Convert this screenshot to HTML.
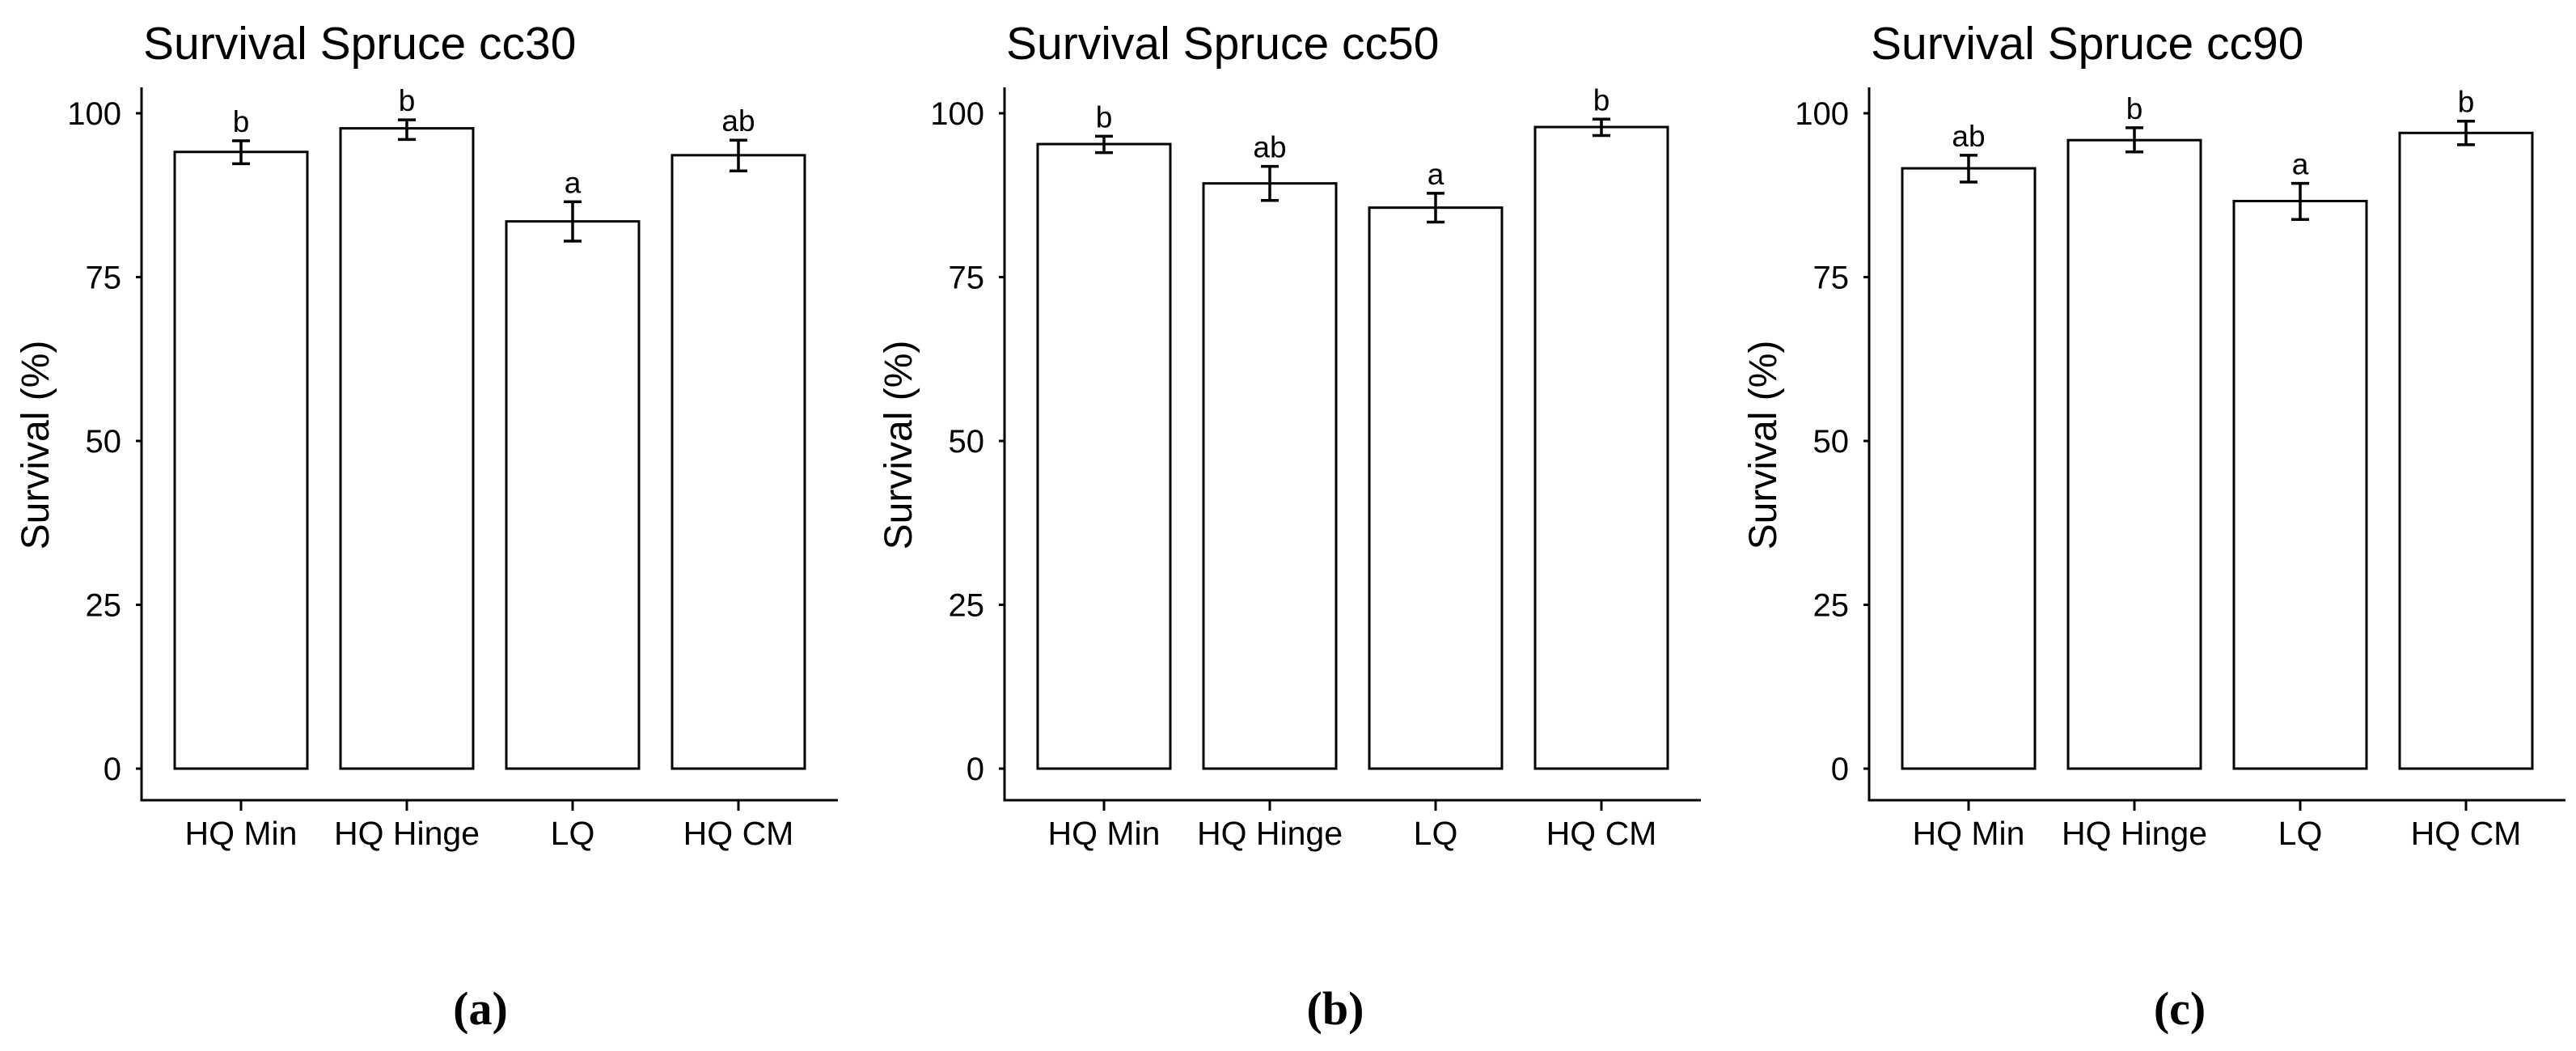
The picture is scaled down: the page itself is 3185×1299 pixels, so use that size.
<!DOCTYPE html>
<html><head><meta charset="utf-8">
<style>
html,body{margin:0;padding:0;background:#fff;}
svg{display:block;}
text{font-family:"Liberation Sans",Arial,sans-serif;fill:#000;}
</style></head>
<body>
<svg id="fig" width="3185" height="1299" viewBox="0 0 3185 1299" xmlns="http://www.w3.org/2000/svg"></svg>
<script>
const categories = ["HQ Min", "HQ Hinge", "LQ", "HQ CM"];
const panelTitles = ["Survival Spruce cc30", "Survival Spruce cc50", "Survival Spruce cc90"];
const panelLabels = ["(a)", "(b)", "(c)"];
const meansA = [94.1, 97.7, 83.5, 93.6];
const errHiA = [95.8, 99.0, 86.5, 95.9];
const errLoA = [92.3, 96.0, 80.5, 91.2];
const lettersA = ["b", "b", "a", "ab"];
const meansB = [95.3, 89.3, 85.6, 97.9];
const errHiB = [96.5, 91.9, 87.8, 99.1];
const errLoB = [94.0, 86.7, 83.4, 96.6];
const lettersB = ["b", "ab", "a", "b"];
const meansC = [91.6, 95.9, 86.6, 97.0];
const errHiC = [93.6, 97.8, 89.3, 98.8];
const errLoC = [89.5, 94.1, 83.8, 95.2];
const lettersC = ["ab", "b", "a", "b"];
const yTicks = [0, 25, 50, 75, 100];

const NS = "http://www.w3.org/2000/svg";
const svg = document.getElementById("fig");
function mk(tag, attrs, parent) {
  const e = document.createElementNS(NS, tag);
  for (const k in attrs) e.setAttribute(k, attrs[k]);
  (parent || svg).appendChild(e);
  return e;
}
const panels = [
  {dx: 0, means: meansA, hi: errHiA, lo: errLoA, letters: lettersA, labelX: 594},
  {dx: 1067, means: meansB, hi: errHiB, lo: errLoB, letters: lettersB, labelX: 1651},
  {dx: 2136, means: meansC, hi: errHiC, lo: errLoC, letters: lettersC, labelX: 2695}
];
const Y0 = 950, PXU = 8.1;
function yScale(v) { return Y0 - v * PXU; }
const STEP = 205;
panels.forEach((p, pi) => {
  const g = mk("g", {});
  
  
  const axX = 175 + p.dx;
  function xScale(i) { return axX + 0.6 * STEP + i * STEP - 0.6 * STEP + 123; }
  // title
  const t = mk("text", {x: axX + 2, y: 73, "font-size": 57}, g);
  t.textContent = panelTitles[pi];
  
  
  // y axis title
  const yt = mk("text", {x: 0, y: 0, "font-size": 48, "text-anchor": "middle", transform: `translate(${60 + p.dx},550) rotate(-90)`}, g);
  yt.textContent = "Survival (%)";
  
  
  // axes
  const ya = mk("line", {x1: axX, y1: 108, x2: axX, y2: 990, stroke: "#000", "stroke-width": 3}, g);
  
  
  const xa = mk("line", {x1: axX - 1.5, y1: 989, x2: axX + 4.2 * STEP + 2 * 0.6 * STEP - 4.2 * STEP + 3 * STEP + 0.6 * STEP * 0 + 123 + 0, y2: 989, stroke: "#000", "stroke-width": 3}, g);
  xa.setAttribute("x2", xScale(3) + 0.6 * STEP);
  
  
  yTicks.forEach(v => {
    const tk = mk("line", {x1: axX - 7, y1: yScale(v), x2: axX, y2: yScale(v), stroke: "#000", "stroke-width": 3}, g);
    
    
    const tl = mk("text", {x: axX - 25, y: yScale(v) + 14, "font-size": 40, "text-anchor": "end", fill: "#111"}, g);
    tl.textContent = v;
    
    
  });
  categories.forEach((c, i) => {
    const cx = xScale(i);
    const bw = 0.8 * STEP;
    const bar = mk("rect", {x: cx - bw / 2, y: yScale(p.means[i]), width: bw, height: yScale(0) - yScale(p.means[i]), fill: "#fff", stroke: "#000", "stroke-width": 3}, g);
    
    
    const eb = mk("path", {d: `M${cx - 11},${yScale(p.hi[i])}H${cx + 11}M${cx},${yScale(p.hi[i])}V${yScale(p.lo[i])}M${cx - 11},${yScale(p.lo[i])}H${cx + 11}`, stroke: "#000", "stroke-width": 3.5, fill: "none"}, g);
    
    
    const lt = mk("text", {x: cx, y: yScale(p.hi[i]) - 11, "font-size": 37, "text-anchor": "middle"}, g);
    lt.textContent = p.letters[i];
    
    
    const xt = mk("line", {x1: cx, y1: 989, x2: cx, y2: 1002, stroke: "#000", "stroke-width": 3}, g);
    
    
    const xl = mk("text", {x: cx, y: 1044, "font-size": 41, "text-anchor": "middle", fill: "#111"}, g);
    xl.textContent = c;
    
    
  });
  const pl = mk("text", {x: p.labelX, y: 1266, "font-size": 58, "font-weight": "bold", "text-anchor": "middle", style: 'font-family:"Liberation Serif",serif'}, g);
  pl.textContent = panelLabels[pi];
  
  
});
</script>
</body></html>
